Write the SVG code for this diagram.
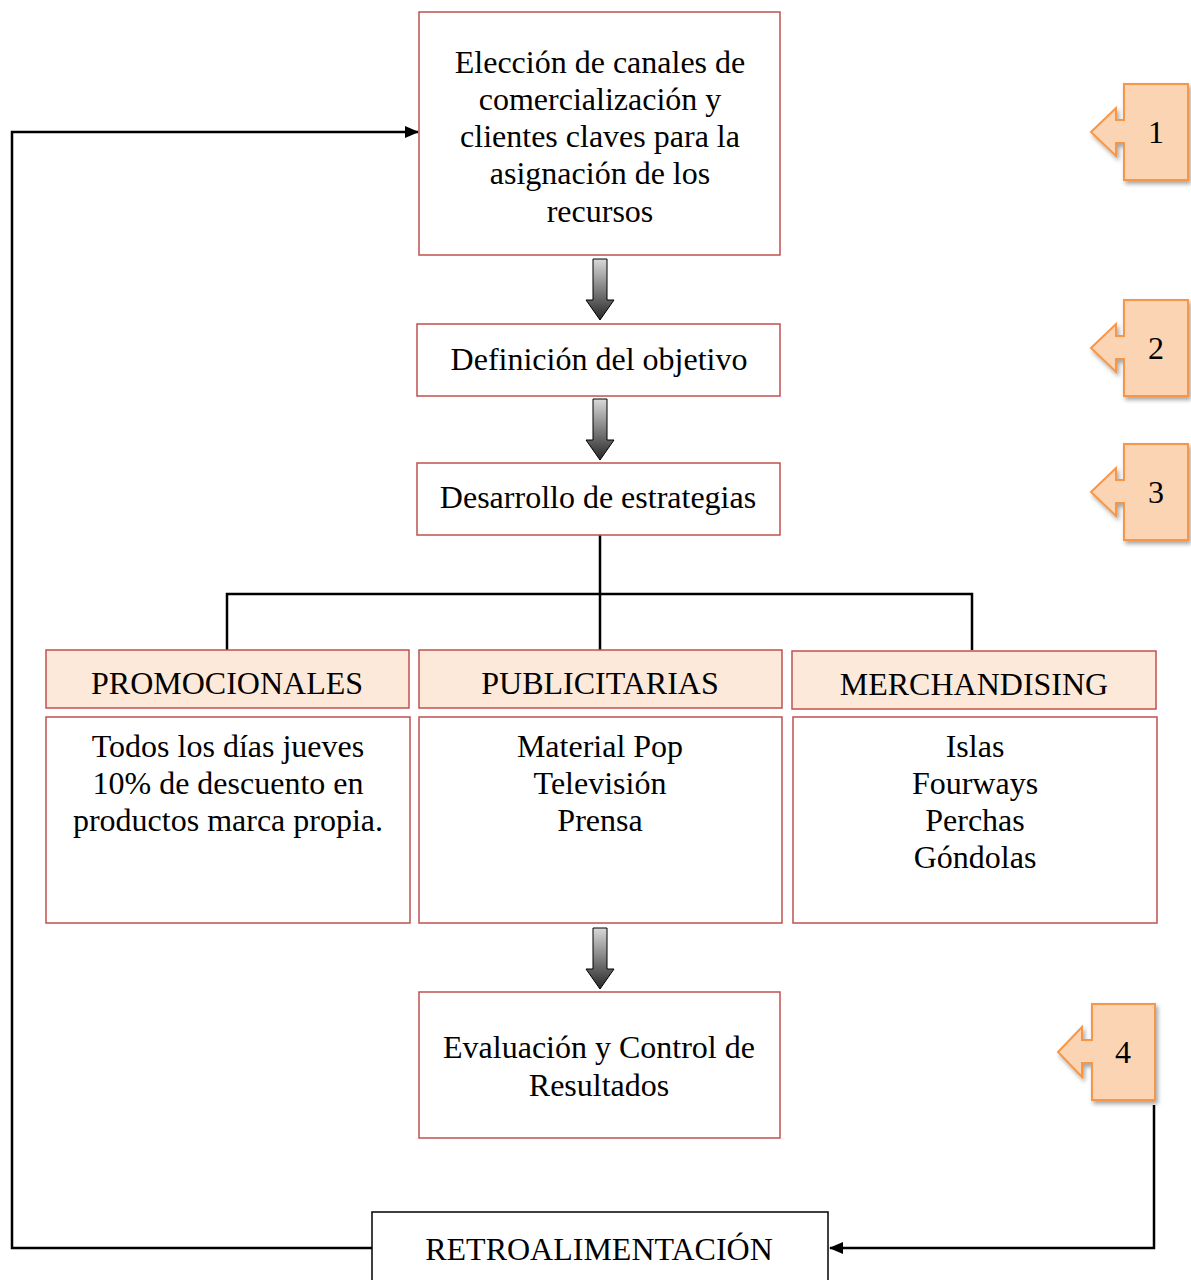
<svg xmlns="http://www.w3.org/2000/svg" width="1191" height="1280" viewBox="0 0 1191 1280">
<style>
text{font-family:"Liberation Serif","Times New Roman",serif;font-size:32px;fill:#000;text-anchor:middle}
.box{fill:#fff;stroke:#c0504d;stroke-width:1.5}
.hdr{fill:#fde9d9;stroke:#c0504d;stroke-width:1.5}
.plain{fill:#fff;stroke:#000;stroke-width:1.5}
.call{fill:#fbd4b4;stroke:#f79646;stroke-width:2;filter:url(#sh)}
.ln{fill:none;stroke:#000;stroke-width:2.5}
.blk{fill:url(#g);stroke:#000;stroke-width:1}
</style>
<defs>
<linearGradient id="g" x1="0" y1="0" x2="0" y2="1">
<stop offset="0" stop-color="#d9d9d9"/><stop offset="1" stop-color="#262626"/>
</linearGradient>
<filter id="sh" x="-20%" y="-20%" width="150%" height="150%">
<feDropShadow dx="2" dy="3" stdDeviation="2" flood-color="#000" flood-opacity="0.35"/>
</filter>
<marker id="ah" markerWidth="14" markerHeight="12" refX="13" refY="6" orient="auto" markerUnits="userSpaceOnUse" viewBox="0 0 14 12">
<path d="M0,0 L14,6 L0,12 z" fill="#000"/>
</marker>
</defs>
<g id="connectors">
<path class="ln" d="M372,1248 H12 V132 H418" marker-end="url(#ah)"/>
<path class="ln" d="M1154,1105 V1248 H830" marker-end="url(#ah)"/>
<path class="ln" d="M600,535 V650 M227,650 V594 H972 V650"/>
<path class="blk" d="M593,259 H607 V300 H614 L600,320 L586,300 H593 Z"/>
<path class="blk" d="M593,399 H607 V440 H614 L600,460 L586,440 H593 Z"/>
<path class="blk" d="M593,928 H607 V969 H614 L600,989 L586,969 H593 Z"/>
</g>
<g id="n1"><rect class="box" x="419" y="12" width="361" height="243"/>
<text x="600" y="73">Elección de canales de</text>
<text x="600" y="110">comercialización y</text>
<text x="600" y="147">clientes claves para la</text>
<text x="600" y="184">asignación de los</text>
<text x="600" y="222">recursos</text></g>
<g id="n2"><rect class="box" x="417" y="324" width="363" height="72"/><text x="599" y="370">Definición del objetivo</text></g>
<g id="n3"><rect class="box" x="417" y="463" width="363" height="72"/><text x="598" y="508">Desarrollo de estrategias</text></g>
<g id="h1"><rect class="hdr" x="46" y="650" width="363" height="58"/><text x="227" y="694">PROMOCIONALES</text></g>
<g id="h2"><rect class="hdr" x="419" y="650" width="363" height="58"/><text x="600" y="694">PUBLICITARIAS</text></g>
<g id="h3"><rect class="hdr" x="792" y="651" width="364" height="58"/><text x="974" y="695">MERCHANDISING</text></g>
<g id="c1"><rect class="box" x="46" y="717" width="364" height="206"/>
<text x="228" y="757">Todos los días jueves</text>
<text x="228" y="794">10% de descuento en</text>
<text x="228" y="831">productos marca propia.</text></g>
<g id="c2"><rect class="box" x="419" y="717" width="363" height="206"/>
<text x="600" y="757">Material Pop</text>
<text x="600" y="794">Televisión</text>
<text x="600" y="831">Prensa</text></g>
<g id="c3"><rect class="box" x="793" y="717" width="364" height="206"/>
<text x="975" y="757">Islas</text>
<text x="975" y="794">Fourways</text>
<text x="975" y="831">Perchas</text>
<text x="975" y="868">Góndolas</text></g>
<g id="n4"><rect class="box" x="419" y="992" width="361" height="146"/>
<text x="599" y="1058">Evaluación y Control de</text>
<text x="599" y="1096">Resultados</text></g>
<g id="n5"><rect class="plain" x="372" y="1212" width="456" height="80"/><text x="599" y="1260">RETROALIMENTACIÓN</text></g>
<g id="k1"><path class="call" d="M1124,84 H1188 V180 H1124 V143 H1116 V156 L1091,132 L1116,108 V120 H1124 Z"/><text x="1156" y="143">1</text></g>
<g id="k2"><path class="call" d="M1124,300 H1188 V396 H1124 V359 H1116 V372 L1091,348 L1116,324 V336 H1124 Z"/><text x="1156" y="359">2</text></g>
<g id="k3"><path class="call" d="M1124,444 H1188 V540 H1124 V503 H1116 V516 L1091,492 L1116,468 V480 H1124 Z"/><text x="1156" y="503">3</text></g>
<g id="k4"><path class="call" d="M1092,1004 H1155 V1100 H1092 V1063 H1082 V1077 L1058,1052 L1082,1027 V1040 H1092 Z"/><text x="1123" y="1063">4</text></g>
</svg>
